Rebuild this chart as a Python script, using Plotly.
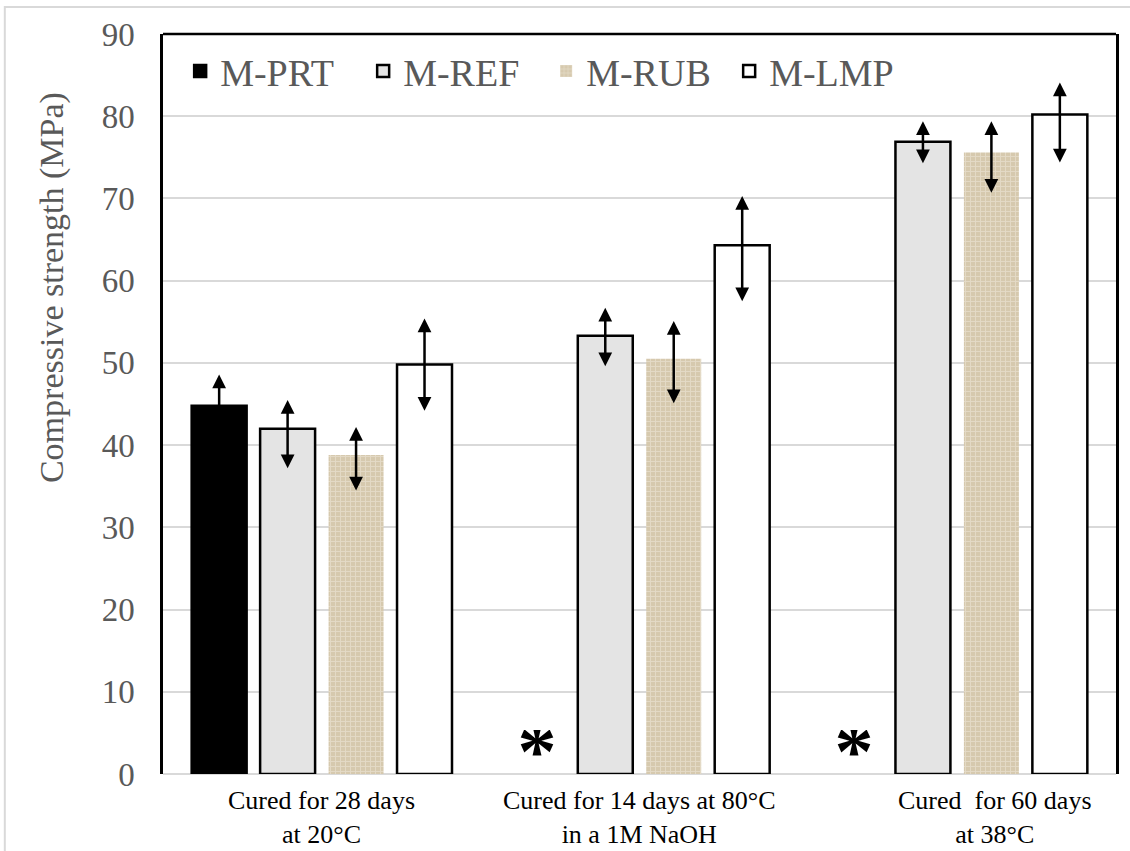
import plotly.graph_objects as go

# Curing regimes (x categories)
categories = [
    "Cured for 28 days<br>at 20°C",
    "Cured for 14 days at 80°C<br>in a 1M NaOH",
    "Cured\u00a0 for 60 days<br>at 38°C",
]

# Mean compressive strength (MPa) per mix; None = not tested
series_names = ["M-PRT", "M-REF", "M-RUB", "M-LMP"]
m_prt = [44.8, None, None]
m_ref = [42.0, 53.3, 76.9]
m_rub = [38.8, 50.5, 75.6]
m_lmp = [49.8, 64.3, 80.2]

# Spread (upper / lower extent of the double arrows, MPa)
prt_up, prt_down = [3.8, None, None], [3.8, None, None]
ref_up, ref_down = [3.5, 3.4, 2.5], [5.0, 3.9, 2.8]
rub_up, rub_down = [3.4, 4.6, 3.8], [4.5, 5.6, 5.1]
lmp_up, lmp_down = [5.6, 6.0, 3.9], [5.8, 7.0, 6.0]

# y position of the "not tested" marker (MPa)
not_tested_y = 4.1

y_ticks = [0, 10, 20, 30, 40, 50, 60, 70, 80, 90]

values = [m_prt, m_ref, m_rub, m_lmp]
ups = [prt_up, ref_up, rub_up, lmp_up]
downs = [prt_down, ref_down, rub_down, lmp_down]

BARGAP = 0.138
BARGROUPGAP = 0.197
SERIF = "Liberation Serif"
GREY_TXT = "#595959"

x_idx = list(range(len(categories)))

fig = go.Figure()

styles = [
    dict(color="black", line=dict(color="black", width=2.5)),
    dict(color="#e4e4e4", line=dict(color="black", width=2.5)),
    dict(color="#d9cdb3", line=dict(color="rgba(0,0,0,0)", width=0),
         pattern=dict(shape="+", fgcolor="#f1ebde", bgcolor="#d6c9ae",
                      size=5, solidity=0.35)),
    dict(color="white", line=dict(color="black", width=2.5)),
]

for name, vals, st in zip(series_names, values, styles):
    fig.add_trace(go.Bar(name=name, x=x_idx, y=vals, marker=st))

# offset of each series inside a category group
n = len(series_names)
slot = (1 - BARGAP) / n


def offset(i):
    return -(1 - BARGAP) / 2 + (i + 0.5) * slot


annotations = []
for i in range(n):
    for c in x_idx:
        v = values[i][c]
        xpos = c + offset(i)
        if v is None:
            # mix not tested under this regime
            annotations.append(dict(
                x=xpos, y=not_tested_y, xref="x", yref="y", text="<b>*</b>",
                showarrow=False, yanchor="middle", yshift=-10,
                width=44, height=40, valign="middle",
                font=dict(family=SERIF, size=78, color="black")))
            continue
        annotations.append(dict(
            x=xpos, y=v + ups[i][c], ax=xpos, ay=v - downs[i][c],
            xref="x", yref="y", axref="x", ayref="y", text="",
            showarrow=True, arrowside="end+start", arrowhead=2,
            startarrowhead=2, arrowsize=1.1, startarrowsize=1.1,
            arrowwidth=2.5, arrowcolor="black"))

# category labels under the axis
label_shift = [0, 0, 38]
for c, lab in enumerate(categories):
    annotations.append(dict(
        x=c, y=0, xref="x", yref="y", text=lab, showarrow=False,
        yanchor="top", yshift=-10, xshift=label_shift[c],
        font=dict(family=SERIF, size=26, color="black")))

# axis title
annotations.append(dict(
    x=-0.1165, y=0.658, xref="paper", yref="paper",
    text="Compressive strength (MPa)", textangle=-90, showarrow=False,
    xanchor="center", yanchor="middle",
    font=dict(family=SERIF, size=34, color=GREY_TXT)))

fig.update_layout(
    width=1130, height=851,
    margin=dict(l=163, r=14, t=34, b=77),
    paper_bgcolor="white", plot_bgcolor="white",
    barmode="group", bargap=BARGAP, bargroupgap=BARGROUPGAP,
    showlegend=True,
    legend=dict(
        orientation="h", x=0.018, y=0.992, xanchor="left", yanchor="top",
        entrywidth=138, entrywidthmode="pixels",
        font=dict(family=SERIF, size=38, color=GREY_TXT),
        bgcolor="rgba(0,0,0,0)", traceorder="normal"),
    annotations=annotations,
    shapes=[
        # top edge of the frame
        dict(type="line", xref="paper", yref="paper", x0=0, x1=1, y0=1, y1=1,
             line=dict(color="black", width=2.5)),
        # light outer border
        dict(type="rect", xref="paper", yref="paper",
             x0=-0.166, x1=1.02, y0=-0.12, y1=1.0365,
             line=dict(color="#d9d9d9", width=2), layer="below"),
    ],
    xaxis=dict(
        range=[-0.5, 2.5], showticklabels=False, showgrid=False,
        zeroline=False, showline=False, fixedrange=True),
    yaxis=dict(
        range=[0, 90], tickvals=y_ticks, ticks="", showgrid=True,
        gridcolor="#d9d9d9", gridwidth=2,
        zeroline=True, zerolinecolor="#d9d9d9", zerolinewidth=2,
        showline=True, linecolor="black", linewidth=2.5, mirror=True,
        ticklabelstandoff=19,
        tickfont=dict(family=SERIF, size=33, color=GREY_TXT)),
)

fig.write_html("out.html")
